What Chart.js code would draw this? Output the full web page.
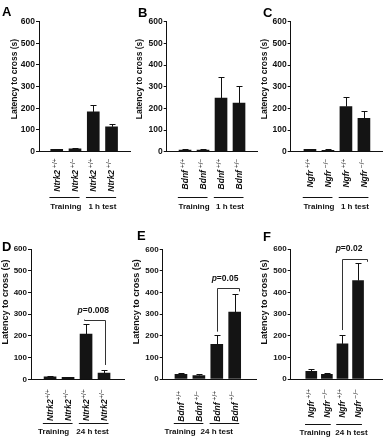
<!DOCTYPE html>
<html>
<head>
<meta charset="utf-8">
<script src="https://cdn.jsdelivr.net/npm/chart.js@4"></script>
<style>
  html, body { margin: 0; padding: 0; background: #fff; }
  #fig { position: relative; width: 383px; height: 440px; overflow: hidden; }
  #fig canvas { position: absolute; }
</style>
</head>
<body>
<div id="fig"></div>
<script>
"use strict"

// values: mean latency and SEM (s)
const groupsTop = ['Training', '1 h test'];
const groupsBottom = ['Training', '24 h test'];
const genotypesHet = ['+/+', '+/\u2212', '+/+', '+/\u2212'];
const genotypesNull = ['+/+', '\u2212/\u2212', '+/+', '\u2212/\u2212'];
const yTitle = 'Latency to cross (s)';
const yMax = 600;
const yStep = 100;

const ntrk2_1h = [10, 12, 183, 114];
const ntrk2_1h_sem = [3, 5, 30, 12];
const bdnf_1h = [8, 8, 247, 224];
const bdnf_1h_sem = [3, 3, 96, 81];
const ngfr_1h = [11, 6, 208, 154];
const ngfr_1h_sem = [3, 5, 46, 32];
const ntrk2_24h = [11, 9, 208, 29];
const ntrk2_24h_sem = [4, 3, 46, 15];
const bdnf_24h = [22, 16, 160, 309];
const bdnf_24h_sem = [6, 5, 42, 83];
const ngfr_24h = [35, 22, 162, 454];
const ngfr_24h_sem = [11, 5, 40, 80];

const pD = '0.008';
const pE = '0.05';
const pF = '0.02';

const FONT = '"Liberation Sans", Arial, sans-serif';
const INK = '#111';

// page layout for each panel (pixels on the page)
const panels = [
  { id: 'A', gene: 'Ntrk2', means: ntrk2_1h, sem: ntrk2_1h_sem, genotypes: genotypesHet, groups: groupsTop,
    left: 0, top: 0, w: 132, h: 215, axisX: 39, axisEnd: 130, y600: 21.7, y0: 151.5, xMin: 0.03, xMax: 5.01,
    barW: 12, titleX: 15, titleY: 79, titleSize: 8.5, tickSize: 8.5, letterX: 2, letterY: 16,
    supGap: 2, labelGap: 7, lineGap: 45, textGap: 55, groupX: [1.5, 3.5] },
  { id: 'B', gene: 'Bdnf', means: bdnf_1h, sem: bdnf_1h_sem, genotypes: genotypesHet, groups: groupsTop,
    left: 125, top: 0, w: 135, h: 215, axisX: 166.7, axisEnd: 257, y600: 21.7, y0: 151.7, xMin: -0.02, xMax: 5.0,
    barW: 12, titleX: 140, titleY: 79, titleSize: 8.5, tickSize: 8.5, letterX: 138, letterY: 17,
    supGap: 2, labelGap: 7, lineGap: 45, textGap: 55, groupX: [1.5, 3.5] },
  { id: 'C', gene: 'Ngfr', means: ngfr_1h, sem: ngfr_1h_sem, genotypes: genotypesNull, groups: groupsTop,
    left: 250, top: 0, w: 133, h: 215, axisX: 290.7, axisEnd: 383, y600: 21.7, y0: 151.7, xMin: -0.07, xMax: 5.06,
    barW: 12, titleX: 265, titleY: 79, titleSize: 8.5, tickSize: 8.5, letterX: 263, letterY: 17,
    supGap: 2, labelGap: 7, lineGap: 45, textGap: 55, groupX: [1.5, 3.5] },
  { id: 'D', gene: 'Ntrk2', means: ntrk2_24h, sem: ntrk2_24h_sem, genotypes: genotypesHet, groups: groupsBottom,
    left: 0, top: 218, w: 132, h: 222, axisX: 31, axisEnd: 124, y600: 249, y0: 379.3, xMin: -0.06, xMax: 5.11,
    barW: 12, titleX: 6, titleY: 302, titleSize: 9, tickSize: 8, letterX: 2, letterY: 251,
    supGap: 0.5, labelGap: 10, lineGap: 43.5, textGap: 52, groupX: [1.2, 3.36],
    sig: { p: pD, x1: 2.9, x2: 4.05, y: 275, y1: 275, y2: 66, tx: 3.4, ty: 318 } },
  { id: 'E', gene: 'Bdnf', means: bdnf_24h, sem: bdnf_24h_sem, genotypes: genotypesHet, groups: groupsBottom,
    left: 125, top: 218, w: 135, h: 222, axisX: 162.7, axisEnd: 256, y600: 249.3, y0: 379, xMin: -0.02, xMax: 5.19,
    barW: 12, titleX: 136.7, titleY: 301.7, titleSize: 9, tickSize: 8, letterX: 137, letterY: 240,
    supGap: 2, labelGap: 12, lineGap: 44, textGap: 52.5, groupX: [0.95, 3.0],
    sig: { p: pE, x1: 3, x2: 4.25, y: 420, y1: 219, y2: 405, tx: 3.46, ty: 463 } },
  { id: 'F', gene: 'Ngfr', means: ngfr_24h, sem: ngfr_24h_sem, genotypes: genotypesNull, groups: groupsBottom,
    left: 250, top: 218, w: 133, h: 222, axisX: 290.7, axisEnd: 383, y600: 249, y0: 379, xMin: -0.32, xMax: 5.6,
    barW: 11, titleX: 265, titleY: 302, titleSize: 9, tickSize: 8, letterX: 263, letterY: 240.5,
    supGap: 2, labelGap: 10, lineGap: 45, textGap: 53.5, groupX: [1.24, 3.58],
    sig: { p: pF, x1: 3, x2: 4.55, y: 552, y1: 226, y2: 541, tx: 3.42, ty: 603 } }
];
const panelById = {};

// error bars, rotated genotype labels, group underlines, brackets, axis title, panel letter
const decor = {
  id: 'decor',
  afterDraw(chart) {
    const p = panelById[chart.canvas.id];
    const ctx = chart.ctx;
    const xs = chart.scales.x, ys = chart.scales.y;
    ctx.save();
    ctx.strokeStyle = INK;
    ctx.fillStyle = INK;
    ctx.lineWidth = 1;

    p.means.forEach((m, i) => {
      const cx = Math.round(xs.getPixelForValue(i + 1)) + 0.5;
      const base = ys.getPixelForValue(m);
      const top = Math.round(ys.getPixelForValue(m + p.sem[i])) + 0.5;
      ctx.beginPath();
      ctx.moveTo(cx, base);
      ctx.lineTo(cx, top);
      ctx.moveTo(cx - 3, top);
      ctx.lineTo(cx + 3, top);
      ctx.stroke();
    });

    const geneFont = 'italic bold 8.5px ' + FONT;
    const supFont = '6.5px ' + FONT;
    p.genotypes.forEach((g, i) => {
      const lx = xs.getPixelForValue(i + 1);
      ctx.save();
      ctx.translate(lx, ys.bottom + p.labelGap);
      ctx.rotate(-Math.PI / 2);
      ctx.textBaseline = 'middle';
      ctx.textAlign = 'left';
      ctx.font = supFont;
      const sw = ctx.measureText(g).width;
      ctx.font = geneFont;
      const gw = ctx.measureText(p.gene).width;
      ctx.fillText(p.gene, -(gw + p.supGap + sw), 0.5);
      ctx.font = supFont;
      ctx.fillText(g, -sw, -2);
      ctx.restore();
    });

    const ly = Math.round(ys.bottom + p.lineGap) + 0.5;
    ctx.textAlign = 'center';
    ctx.textBaseline = 'middle';
    ctx.font = 'bold 8px ' + FONT;
    [[1, 2], [3, 4]].forEach((pair, k) => {
      const a = xs.getPixelForValue(pair[0] - 0.4);
      const b = xs.getPixelForValue(pair[1] + 0.25);
      ctx.beginPath();
      ctx.moveTo(a, ly);
      ctx.lineTo(b, ly);
      ctx.stroke();
      ctx.fillText(p.groups[k], xs.getPixelForValue(p.groupX[k]), ys.bottom + p.textGap);
    });

    if (p.sig) {
      const s = p.sig;
      const x1 = Math.round(xs.getPixelForValue(s.x1)) + 0.5;
      const x2 = Math.round(xs.getPixelForValue(s.x2)) + 0.5;
      const yl = Math.round(ys.getPixelForValue(s.y)) + 0.5;
      ctx.strokeStyle = '#333';
      ctx.beginPath();
      ctx.moveTo(x1, ys.getPixelForValue(s.y1));
      ctx.lineTo(x1, yl);
      ctx.lineTo(x2, yl);
      ctx.lineTo(x2, ys.getPixelForValue(s.y2));
      ctx.stroke();
      ctx.textAlign = 'left';
      ctx.font = 'italic bold 8.5px ' + FONT;
      const pw = ctx.measureText('p').width;
      ctx.font = 'bold 8.5px ' + FONT;
      const rest = '=' + s.p;
      const rw = ctx.measureText(rest).width;
      const tx0 = xs.getPixelForValue(s.tx) - (pw + rw) / 2;
      const ty = ys.getPixelForValue(s.ty);
      ctx.font = 'italic bold 8.5px ' + FONT;
      ctx.fillText('p', tx0, ty);
      ctx.font = 'bold 8.5px ' + FONT;
      ctx.fillText(rest, tx0 + pw, ty);
    }

    ctx.save();
    ctx.translate(p.titleX - p.left, p.titleY - p.top);
    ctx.rotate(-Math.PI / 2);
    ctx.textAlign = 'center';
    ctx.textBaseline = 'middle';
    ctx.font = 'bold ' + p.titleSize + 'px ' + FONT;
    ctx.fillText(yTitle, 0, 0);
    ctx.restore();

    ctx.textAlign = 'left';
    ctx.textBaseline = 'alphabetic';
    ctx.font = 'bold 13px ' + FONT;
    ctx.fillStyle = '#000';
    ctx.fillText(p.id, p.letterX - p.left, p.letterY - p.top);
    ctx.restore();
  }
};

function drawPanel(p) {
  const canvas = document.createElement('canvas');
  canvas.id = 'panel' + p.id;
  canvas.width = p.w;
  canvas.height = p.h;
  canvas.style.left = p.left + 'px';
  canvas.style.top = p.top + 'px';
  document.getElementById('fig').appendChild(canvas);
  panelById[canvas.id] = p;

  const yW = p.axisX - p.left;
  const xH = p.h - (p.y0 - p.top);

  new Chart(canvas, {
    type: 'bar',
    data: {
      datasets: [{
        data: p.means.map((m, i) => ({ x: i + 1, y: m })),
        backgroundColor: '#141414',
        borderWidth: 0,
        barThickness: p.barW
      }]
    },
    options: {
      responsive: false,
      animation: false,
      events: [],
      layout: { padding: { left: 0, top: p.y600 - p.top, right: p.left + p.w - p.axisEnd, bottom: 0 } },
      plugins: { legend: { display: false }, tooltip: { enabled: false } },
      scales: {
        x: {
          type: 'linear',
          offset: false,
          bounds: 'data',
          min: p.xMin,
          max: p.xMax,
          ticks: { display: false },
          grid: { drawOnChartArea: false, drawTicks: false, offset: false },
          border: { color: INK, width: 1 },
          afterFit: s => { s.height = xH; }
        },
        y: {
          min: 0,
          max: yMax,
          ticks: { stepSize: yStep, color: INK, padding: 1, font: { family: FONT, size: p.tickSize, weight: 'bold' } },
          grid: { drawOnChartArea: false, tickLength: 3, color: INK },
          border: { color: INK, width: 1 },
          title: { display: false, text: yTitle },
          afterFit: s => { s.width = yW; }
        }
      }
    },
    plugins: [decor]
  });
}

document.addEventListener("DOMContentLoaded", () => {
  panels.forEach(drawPanel);
});
</script>
</body>
</html>
